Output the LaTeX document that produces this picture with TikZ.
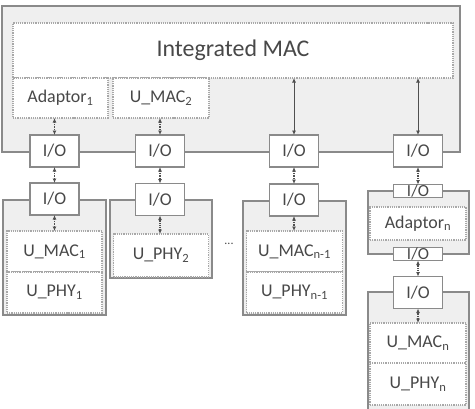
\documentclass[tikz,border=0pt]{standalone}
\usepackage{fontspec}
\setmainfont{Carlito}
\usetikzlibrary{arrows.meta}
\definecolor{ln}{HTML}{8A8A8A}
\definecolor{gf}{HTML}{EFEFEF}
\definecolor{dl}{HTML}{A8A8A8}
\definecolor{tx}{HTML}{484848}
\definecolor{ar}{HTML}{505050}
\tikzset{
 base/.style={inner sep=0pt, outer sep=0pt, text=tx, font=\fontsize{18}{20}\selectfont, rectangle},
 solidbox/.style={base, draw=ln, line width=1.3bp},
 grp/.style={solidbox, fill=gf},
 iobox/.style={solidbox, fill=white, minimum width=49bp, minimum height=32bp},
 smallio/.style={iobox, minimum height=13bp, font=\fontsize{17}{17}\selectfont},
 dotbox/.style={base, draw=dl, line width=1.2bp, densely dotted, fill=white},
 link/.style={draw=ar, line width=0.8bp, {Latex[length=4.5bp,width=4bp]}-{Latex[length=4.5bp,width=4bp]}},
 dlink/.style={link, densely dotted, line width=1.6bp},
}
\begin{document}
\begin{tikzpicture}[x=1bp, y=-1bp]
\clip (0,0) rectangle (475,408);
\fill[white] (0,0) rectangle (475,408);
% top block
\node[grp, minimum width=458bp, minimum height=146bp] (outer) at (231,79) {};
\node[dotbox, minimum width=440bp, minimum height=55bp, font=\fontsize{24}{26}\selectfont] (imac) at (233,50.5) {Integrated MAC};
\node[dotbox, minimum width=95bp, minimum height=40bp] (ad1) at (60.5,98) {Adaptor\textsubscript{1}};
\node[dotbox, minimum width=96bp, minimum height=40bp] (umac2) at (161,98) {U\_MAC\textsubscript{2}};
\node[iobox] (io1) at (54.5,151) {I/O};
\node[iobox] (io2) at (160,151) {I/O};
\node[iobox] (io3) at (294,151) {I/O};
\node[iobox] (io4) at (418,151) {I/O};
% group 1
\node[grp, minimum width=103bp, minimum height=115bp] (g1) at (54.5,257.5) {};
\node[dotbox, minimum width=95bp, minimum height=41bp] (umac1) at (54.5,251.5) {U\_MAC\textsubscript{1}};
\node[dotbox, minimum width=95bp, minimum height=41bp] (uphy1) at (54.5,292.5) {U\_PHY\textsubscript{1}};
\node[iobox] (io5) at (54.5,199) {I/O};
% group 2
\node[grp, minimum width=102bp, minimum height=78bp] (g2) at (161,239) {};
\node[dotbox, minimum width=95bp, minimum height=43bp] (uphy2) at (161,255.5) {U\_PHY\textsubscript{2}};
\node[iobox] (io6) at (160,199.5) {I/O};
\node[base, font=\fontsize{12}{12}\selectfont] (dots) at (229,244) {...};
% group n-1
\node[grp, minimum width=103bp, minimum height=114bp] (g3) at (294.5,258) {};
\node[dotbox, minimum width=96bp, minimum height=41bp] (umacn1) at (294.5,251.5) {U\_MAC\textsubscript{n-1}};
\node[dotbox, minimum width=96bp, minimum height=41bp] (uphyn1) at (294.5,292.5) {U\_PHY\textsubscript{n-1}};
\node[iobox] (io7) at (294,200) {I/O};
% adaptor n group
\node[grp, minimum width=101bp, minimum height=63bp] (g4) at (418.5,222.5) {};
\node[dotbox, minimum width=96bp, minimum height=33bp] (adn) at (418,223.5) {Adaptor\textsubscript{n}};
\node[smallio] (io8) at (418,191) {I/O};
\node[smallio] (io9) at (418,254) {I/O};
% group n
\node[grp, minimum width=101bp, minimum height=130bp] (g5) at (418.5,357) {};
\node[dotbox, minimum width=96bp, minimum height=40bp] (umacn) at (418,343) {U\_MAC\textsubscript{n}};
\node[dotbox, minimum width=96bp, minimum height=42bp] (uphyn) at (418,384) {U\_PHY\textsubscript{n}};
\node[iobox] (io10) at (418,292.5) {I/O};
% connectors
\draw[dlink] (io1.north |- ad1.south) -- (io1.north);
\draw[dlink] (io2.north |- umac2.south) -- (io2.north);
\draw[link] (io3.north |- imac.south) -- (io3.north);
\draw[link] (io4.north |- imac.south) -- (io4.north);
\draw[dlink] (io1.south) -- (io5.north);
\draw[dlink] (io5.south) -- (umac1.north -| io5.south);
\draw[dlink] (io2.south) -- (io6.north);
\draw[dlink] (io6.south) -- (uphy2.north -| io6.south);
\draw[dlink] (io3.south) -- (io7.north);
\draw[dlink] (io7.south) -- (umacn1.north -| io7.south);
\draw[dlink] (io4.south) -- (io8.north);
\draw[dlink] (io9.south) -- (io10.north);
\draw[dlink] (io10.south) -- (umacn.north -| io10.south);
\end{tikzpicture}
\end{document}
